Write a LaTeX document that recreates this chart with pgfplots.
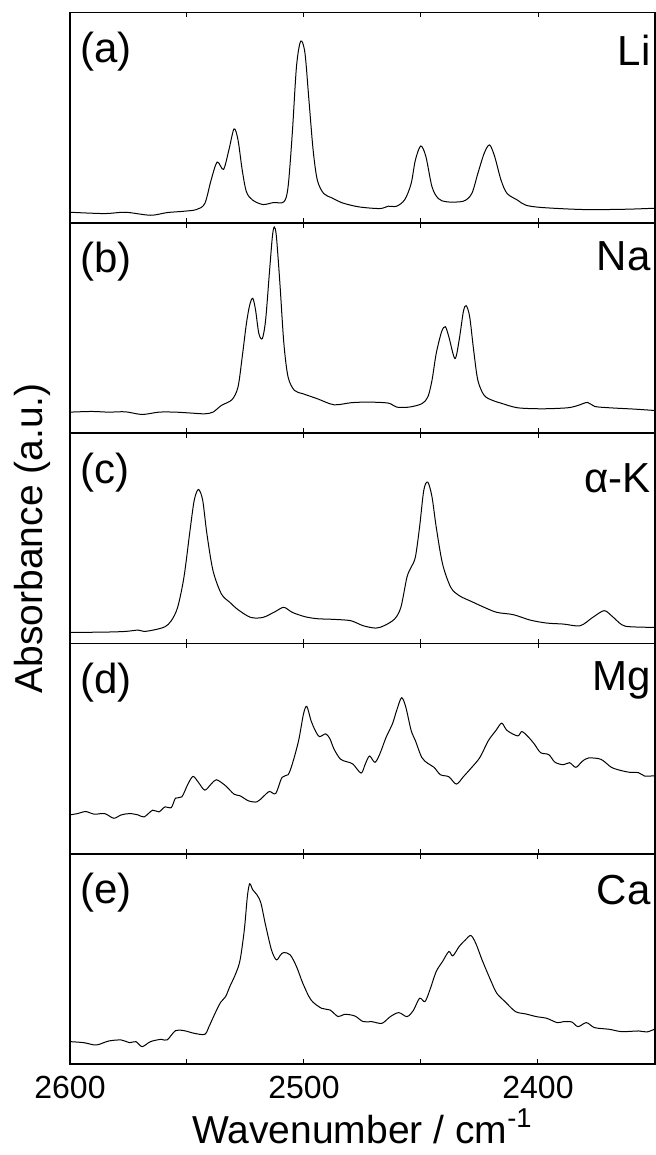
\documentclass[border=0pt]{standalone}
\usepackage{fontspec}
\setmainfont{Liberation Sans}
\usepackage{pgfplots}
\pgfplotsset{compat=1.18}
\usepgfplotslibrary{groupplots}
\usetikzlibrary{calc}
\tikzset{lbl/.style={inner sep=0pt, font=\fontsize{21}{21}\selectfont}}

\begin{document}
\begin{tikzpicture}
\begin{groupplot}[
  group style={group size=1 by 5, vertical sep=0pt, group name=g, xticklabels at=edge bottom},
  scale only axis, width=292.5pt, height=105.13pt,
  xmin=2350, xmax=2600, x dir=reverse,
  ymin=0, ymax=628,
  xtick={2400,2500,2600}, xticklabels={2400,2500,2600},
  minor xtick={2450,2550},
  ytick=\empty,
  tick align=inside,
  major tick length=2.4pt, minor tick length=2.4pt,
  every tick/.style={black, line width=0.5pt},
  axis line style={line width=0.75pt},
  xticklabel style={font=\fontsize{16}{16}\selectfont, inner sep=0pt, yshift=-6pt},
  every axis plot post/.append style={black, line width=0.5pt, smooth, tension=0.5, mark=none},
]
% (a) Li
\nextgroupplot
\addplot coordinates {
(2600,32) (2585.2,28) (2576.3,32) (2565.6,23) (2558.5,31) (2551.3,35) (2546.0,40)
(2542.4,58) (2539.7,128) (2537.1,182) (2534.4,160) (2532.1,218) (2529.9,281) (2528.2,248)
(2526.4,158) (2524.6,93) (2521.9,68) (2517.5,55) (2513.0,61) (2508.6,63) (2506.8,108)
(2505.0,268) (2503.2,468) (2501.4,543) (2499.6,508) (2497.9,368) (2496.1,218) (2494.3,128)
(2491.6,88) (2488.1,75) (2483.6,60) (2476.5,48) (2467.6,43) (2464.0,50) (2460.4,50)
(2456.9,70) (2454.2,118) (2452.4,188) (2450.1,230) (2447.9,198) (2445.3,108) (2442.6,73)
(2439.0,63) (2431.9,65) (2428.3,88) (2425.7,148) (2423.0,208) (2420.7,233) (2418.5,198)
(2415.8,128) (2413.2,88) (2408.7,68) (2405.2,53) (2398.0,46) (2380.2,40) (2362.4,41) (2350.3,44)
};
\node[lbl, anchor=north west, xshift=5pt, yshift=-9.5pt] at (rel axis cs:0,1) {(a)};
\node[lbl, anchor=north east, xshift=-2pt, yshift=-11pt] at (rel axis cs:1,1) {Li};
% (b) Na
\nextgroupplot
\addplot coordinates {
(2600,63) (2590.6,65) (2583.4,63) (2576.3,64) (2569.2,56) (2562.0,63) (2554.9,63)
(2547.8,60) (2542.4,58) (2538.9,63) (2535.3,83) (2530.8,100) (2528.2,138) (2526.4,228)
(2524.6,328) (2523.2,383) (2521.9,403) (2520.7,368) (2519.3,298) (2517.8,283) (2516.4,338)
(2514.8,478) (2513.5,588) (2512.7,616) (2511.8,588) (2510.3,448) (2508.6,268) (2506.8,168)
(2504.1,128) (2500.5,118) (2494.3,103) (2487.2,85) (2480.0,91) (2472.9,93) (2464.0,90)
(2460.4,78) (2455.1,78) (2449.7,88) (2447.1,108) (2445.3,158) (2443.5,238) (2441.2,303)
(2439.6,318) (2438.1,288) (2435.5,223) (2433.7,278) (2431.9,363) (2430.7,381) (2429.2,348)
(2427.5,248) (2425.7,158) (2423.0,113) (2419.4,98) (2415.9,90) (2408.7,76) (2398.0,73)
(2387.3,76) (2382.9,83) (2378.8,92) (2375.8,80) (2369.5,76) (2358.8,72) (2350.3,68)
};
\node[lbl, anchor=north west, xshift=5pt, yshift=-9.5pt] at (rel axis cs:0,1) {(b)};
\node[lbl, anchor=north east, xshift=-2pt, yshift=-9pt] at (rel axis cs:1,1) {Na};
% (c) alpha-K
\nextgroupplot
\addplot coordinates {
(2600,33) (2585.2,34) (2576.3,36) (2570.9,40) (2568.3,36) (2563.8,41) (2559.4,50)
(2556.7,68) (2554.0,108) (2551.3,198) (2548.7,338) (2546.9,428) (2545.1,460) (2543.3,428)
(2541.5,328) (2538.9,218) (2535.3,148) (2531.7,123) (2528.2,101) (2522.8,78) (2517.5,78)
(2512.1,96) (2508.6,108) (2505.0,93) (2499.6,80) (2494.3,74) (2487.2,72) (2480.0,68)
(2474.7,53) (2469.3,46) (2465.8,53) (2461.3,73) (2458.6,108) (2456.0,198) (2454.2,228)
(2452.4,258) (2450.6,348) (2448.8,458) (2447.1,482) (2445.3,438) (2443.5,348) (2440.8,238)
(2437.3,168) (2433.7,143) (2428.3,125) (2423.0,108) (2417.6,93) (2410.5,86) (2403.4,70)
(2396.3,61) (2389.1,58) (2382.0,53) (2376.6,78) (2371.8,98) (2368.6,83) (2364.2,56)
(2360.6,50) (2350.3,48)
};
\node[lbl, anchor=north west, xshift=5pt, yshift=-9.5pt] at (rel axis cs:0,1) {(c)};
\node[lbl, anchor=north east, xshift=-2pt, yshift=-15pt] at (rel axis cs:1,1) {α-K};
% (d) Mg
\nextgroupplot
\addplot coordinates {
(2600.0,116) (2596.8,120) (2593.2,126) (2589.7,118) (2585.2,120) (2581.3,106) (2578.1,116)
(2574.5,120) (2570.9,116) (2568.3,110) (2564.7,130) (2562.0,125) (2559.4,140) (2556.7,138)
(2554.9,166) (2552.2,170) (2549.6,208) (2547.4,231) (2545.1,213) (2542.4,190) (2539.7,208)
(2537.4,221) (2533.5,203) (2529.9,178) (2527.3,173) (2523.7,158) (2520.1,155) (2517.5,170)
(2514.8,186) (2512.1,180) (2509.4,228) (2506.8,236) (2505.0,268) (2502.3,338) (2500.2,418)
(2498.8,440) (2497.0,398) (2495.2,368) (2493.4,350) (2490.7,358) (2488.9,343) (2487.2,313)
(2484.5,283) (2481.8,275) (2479.1,268) (2475.6,241) (2473.8,268) (2472.0,292) (2469.7,273)
(2467.6,298) (2464.9,348) (2462.2,388) (2460.4,428) (2458.3,466) (2456.5,438) (2454.2,368)
(2452.4,338) (2449.7,288) (2447.1,270) (2444.4,258) (2441.7,236) (2438.1,230) (2434.9,208)
(2431.9,230) (2428.3,258) (2424.8,288) (2421.2,338) (2418.0,368) (2415.5,390) (2413.2,368)
(2408.7,352) (2406.9,365) (2404.3,350) (2401.6,328) (2398.9,302) (2395.4,296) (2392.7,273)
(2389.1,266) (2386.5,272) (2383.8,258) (2381.1,276) (2378.4,286) (2373.1,282) (2368.6,258)
(2364.2,248) (2360.6,243) (2357.0,242) (2354.4,232) (2350.3,233)
};
\node[lbl, anchor=north west, xshift=5pt, yshift=-9.5pt] at (rel axis cs:0,1) {(d)};
\node[lbl, anchor=north east, xshift=-2pt, yshift=-9pt] at (rel axis cs:1,1) {Mg};
% (e) Ca
\nextgroupplot[ymax=630]
\addplot coordinates {
(2600.0,67) (2594.1,64) (2588.8,57) (2583.4,69) (2578.1,72) (2574.5,64) (2571.8,67)
(2569.2,52) (2565.6,67) (2561.1,74) (2558.5,72) (2554.9,100) (2551.3,100) (2546.9,92)
(2542.4,89) (2540.6,112) (2538.0,152) (2535.6,185) (2533.5,202) (2531.7,232) (2529.1,272)
(2527.3,312) (2525.5,402) (2524.2,502) (2523.2,540) (2521.9,522) (2520.1,507) (2518.4,482)
(2516.6,422) (2513.9,342) (2511.8,312) (2510.0,327) (2508.6,334) (2505.9,327) (2503.2,292)
(2500.5,242) (2497.0,192) (2492.5,167) (2488.9,162) (2485.4,142) (2482.7,149) (2478.3,144)
(2474.7,127) (2471.1,127) (2466.7,122) (2463.1,142) (2459.5,154) (2456.0,142) (2453.3,160)
(2450.6,197) (2448.3,187) (2446.2,222) (2443.5,277) (2440.8,307) (2438.1,337) (2436.4,324)
(2433.7,352) (2431.0,372) (2428.7,385) (2426.6,362) (2423.9,312) (2420.3,252) (2417.6,212)
(2414.1,187) (2409.6,157) (2405.2,150) (2400.7,142) (2396.3,137) (2391.8,124) (2389.1,127)
(2385.6,126) (2382.9,112) (2379.3,124) (2375.8,109) (2369.5,104) (2364.2,97) (2357.0,99)
(2353.5,96) (2350.3,104)
};
\node[lbl, anchor=north west, xshift=5pt, yshift=-9.5pt] at (rel axis cs:0,1) {(e)};
\node[lbl, anchor=north east, xshift=-2pt, yshift=-10.5pt] at (rel axis cs:1,1) {Ca};
\end{groupplot}
\node[anchor=base, inner sep=0pt, font=\fontsize{19.5}{19.5}\selectfont]
  at ($(g c1r5.south)+(0,-39.5pt)$) {Wavenumber / cm\textsuperscript{-1}};
\node[anchor=base, rotate=90, inner sep=0pt, font=\fontsize{19.5}{19.5}\selectfont]
  at ($(g c1r1.north west)!0.5!(g c1r5.south west)+(-13.5pt,0)$) {Absorbance (a.u.)};
\pgfresetboundingbox
\path ($(g c1r1.north west)+(-35pt,6.35pt)$) rectangle ($(g c1r5.south east)+(0.5pt,-45.5pt)$);
\end{tikzpicture}
\end{document}
